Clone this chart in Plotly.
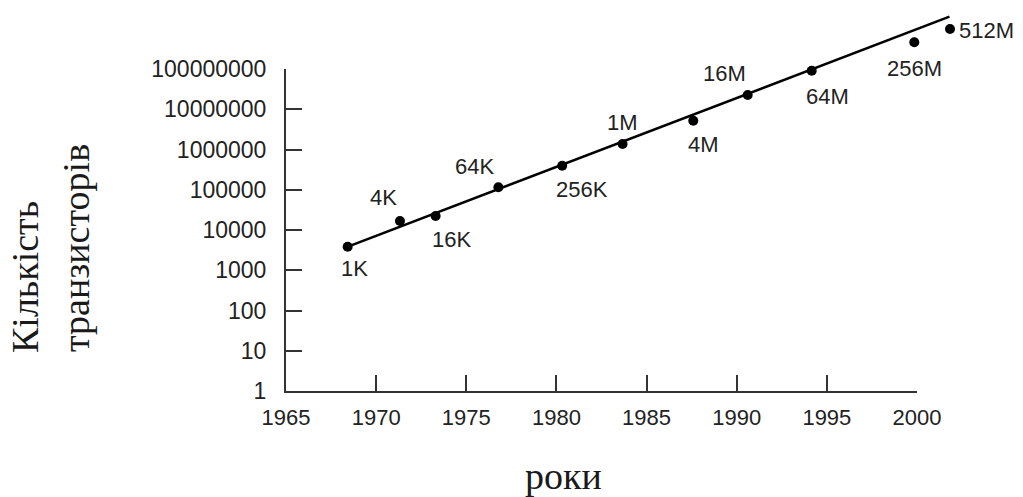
import numpy as np
import plotly.graph_objects as go

# ---------------- data ----------------
years = [1968.42, 1971.32, 1973.30, 1976.78, 1980.32, 1983.67, 1987.59, 1990.61, 1994.16, 1999.85, 2001.83]
transistors = [3850, 16700, 22300, 115000, 396000, 1.37e6, 5.2e6, 2.26e7, 9.08e7, 4.6e8, 9.9e8]
labels = ["1K", "4K", "16K", "64K", "256K", "1M", "4M", "16M", "64M", "256M", "512M"]

fit_years = [1968.4, 2001.8]
fit_values = [3800, 2.0e9]

x_tickvals = [1965, 1970, 1975, 1980, 1985, 1990, 1995, 2000]
x_ticktext = ["1965", "1970", "1975", "1980", "1985", "1990", "1995", "2000"]
y_tickvals = [1, 10, 100, 1000, 10000, 100000, 1000000, 10000000, 100000000]
y_ticktext = ["1", "10", "100", "1000", "10000", "100000", "1000000", "10000000", "100000000"]

# label offsets (pixels, style only)
lab_dx = [7, -16, 16, -24, 20, 0, 10, -23, 16, 0, 37]
lab_dy = [22, -23.5, 24, -21, 24, -22, 24, -22, 26, 26, 2]

# ---------------- layout geometry ----------------
W, H = 1023, 497
x0_px, x1_px = 286, 917      # 1965 .. 2000
y0_px, y1_px = 391, 69       # 1 .. 1e8
xr = (1965, 2000)
yr = (0, 8)
px_per_year = (x1_px - x0_px) / (xr[1] - xr[0])
px_per_dec = (y0_px - y1_px) / (yr[1] - yr[0])

dom_x = [x0_px / W, x1_px / W]
dom_y = [(H - y0_px) / H, (H - y1_px) / H]
# overlay (invisible) axes share the same scale but extend to the figure edge
dom_x2 = [x0_px / W, 1.0]
dom_y2 = [(H - y0_px) / H, 1.0]
xr2 = [xr[0], xr[0] + (W - x0_px) / px_per_year]
yr2 = [yr[0], yr[0] + y0_px / px_per_dec]

fig = go.Figure()
# invisible copy on the visible axes so that the framed subplot is drawn
fig.add_trace(go.Scatter(x=years, y=transistors, mode="markers",
                         marker=dict(color="black", size=10, opacity=0),
                         xaxis="x", yaxis="y", hoverinfo="skip", showlegend=False))
fig.add_trace(go.Scatter(x=fit_years, y=fit_values, mode="lines",
                         line=dict(color="black", width=2.6),
                         xaxis="x2", yaxis="y2", hoverinfo="skip", showlegend=False))
fig.add_trace(go.Scatter(x=years, y=transistors, mode="markers",
                         marker=dict(color="black", size=10), cliponaxis=False,
                         xaxis="x2", yaxis="y2", showlegend=False))

label_font = dict(family="Liberation Sans, Arial, sans-serif", size=22, color="#222")
for xv, yv, t, dx, dy in zip(years, transistors, labels, lab_dx, lab_dy):
    fig.add_annotation(x=xv, y=np.log10(yv), xref="x2", yref="y2", text=t,
                       showarrow=False, xanchor="center", yanchor="middle",
                       xshift=dx, yshift=-dy, font=label_font)

title_font = dict(family="Liberation Serif, Times New Roman, serif", size=38, color="#1a1a1a")
fig.add_annotation(x=25 / W, y=1 - 277 / H, xref="paper", yref="paper", text="Кількість",
                   textangle=-90, showarrow=False, xanchor="center", yanchor="middle", font=title_font)
fig.add_annotation(x=76 / W, y=1 - 248 / H, xref="paper", yref="paper", text="транзисторів",
                   textangle=-90, showarrow=False, xanchor="center", yanchor="middle", font=title_font)
fig.add_annotation(x=563 / W, y=0, xref="paper", yref="paper", text="роки",
                   showarrow=False, xanchor="center", yanchor="bottom", yshift=-2, font=title_font)

axis_common = dict(showline=True, linecolor="#333", linewidth=2, ticks="inside", ticklen=16,
                   tickwidth=1.5, tickcolor="#333", showgrid=False, zeroline=False,
                   fixedrange=True)

fig.update_layout(
    width=W, height=H,
    margin=dict(l=0, r=0, t=0, b=0, autoexpand=False),
    paper_bgcolor="white", plot_bgcolor="rgba(0,0,0,0)",
    showlegend=False,
    xaxis=dict(domain=dom_x, range=list(xr), anchor="y", tickmode="array",
               tickvals=x_tickvals, ticktext=x_ticktext, ticklabelstandoff=6,
               tickfont=dict(family="Liberation Sans, Arial, sans-serif", size=22, color="#222"),
               **axis_common),
    yaxis=dict(domain=dom_y, type="log", range=list(yr), anchor="x", tickmode="array",
               tickvals=y_tickvals, ticktext=y_ticktext, ticklabelstandoff=13,
               tickfont=dict(family="Liberation Sans, Arial, sans-serif", size=23, color="#222"),
               **axis_common),
    xaxis2=dict(domain=dom_x2, range=xr2, anchor="y2", visible=False, fixedrange=True),
    yaxis2=dict(domain=dom_y2, type="log", range=yr2, anchor="x2", visible=False, fixedrange=True),
)

fig.write_html("out.html", config={"displayModeBar": False},
               post_script="document.body.style.margin='0';document.body.style.overflow='hidden';")
